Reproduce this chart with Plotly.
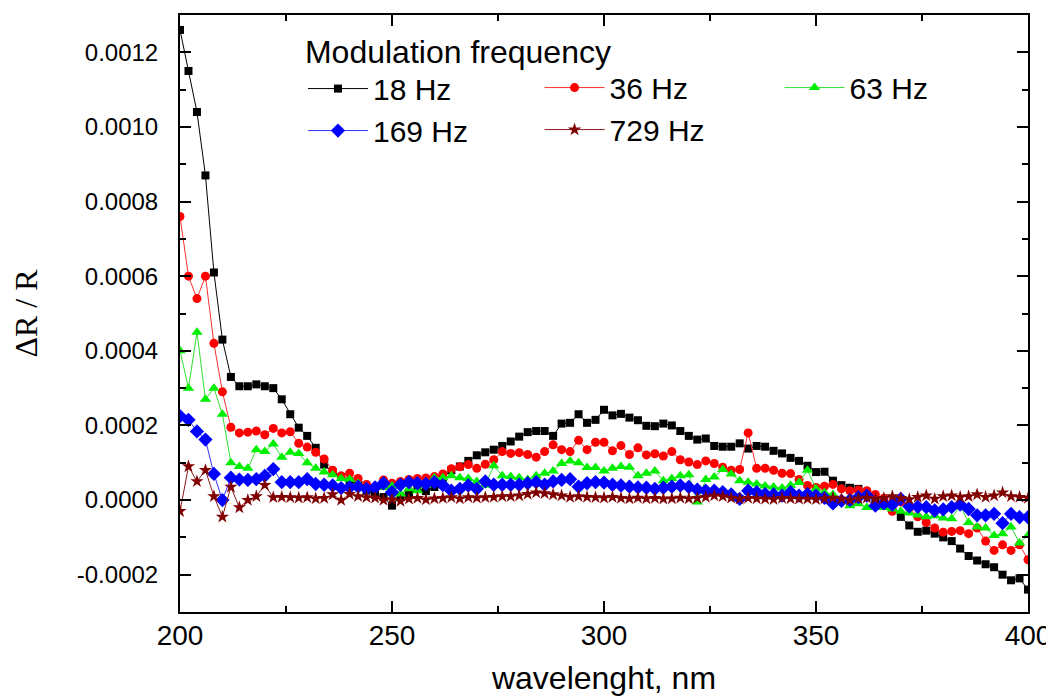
import plotly.graph_objects as go

# ---------------- data (ΔR/R values in units of 1e-4) ----------------
wavelength_nm = list(range(200, 401, 2))

dr_18hz_e4 = [
    12.6, 11.5, 10.4, 8.7, 6.1, 4.3, 3.3, 3.05, 3.05, 3.1,
    3.05, 3.0, 2.7, 2.3, 1.94, 1.72, 1.4, 0.95, 0.75, 0.62,
    0.5, 0.4, 0.25, 0.14, 0.08, -0.15, 0.1, 0.16, 0.3, 0.24,
    0.35, 0.6, 0.8, 0.9, 1.05, 1.2, 1.28, 1.35, 1.45, 1.57,
    1.7, 1.82, 1.85, 1.85, 1.72, 2.05, 2.07, 2.3, 2.07, 2.15,
    2.42, 2.27, 2.31, 2.21, 2.14, 1.99, 1.98, 2.05, 2.0, 1.85,
    1.72, 1.62, 1.65, 1.45, 1.43, 1.43, 1.52, 1.38, 1.45, 1.43,
    1.32, 1.25, 1.13, 1.05, 0.92, 0.75, 0.76, 0.52, 0.40, 0.33,
    0.3, 0.2, 0.0, -0.1, -0.25, -0.45, -0.68, -0.85, -0.82, -0.9,
    -1.0, -1.1, -1.3, -1.5, -1.62, -1.72, -1.8, -2.0, -2.15, -2.1,
    -2.4,
]

dr_36hz_e4 = [
    7.6, 6.0, 5.4, 6.0, 4.2, 2.9, 1.95, 1.8, 1.82, 1.85,
    1.75, 1.92, 1.8, 1.83, 1.52, 1.42, 1.28, 1.1, 0.8, 0.65,
    0.72, 0.58, 0.42, 0.34, 0.54, 0.45, 0.5, 0.55, 0.58, 0.59,
    0.63, 0.7, 0.84, 0.89, 0.95, 0.85, 0.96, 1.08, 1.3, 1.25,
    1.27, 1.22, 1.15, 1.3, 1.48, 1.35, 1.3, 1.6, 1.35, 1.55,
    1.55, 1.32, 1.46, 1.22, 1.40, 1.21, 1.24, 1.18, 1.30, 1.08,
    1.02, 0.95, 1.05, 0.98, 0.88, 0.80, 0.82, 1.8, 0.85, 0.85,
    0.80, 0.72, 0.71, 0.55, 0.39, 0.34, 0.37, 0.42, 0.30, 0.25,
    0.27, 0.25, 0.15, 0.05, -0.3, -0.05, -0.2, -0.45, -0.6, -0.75,
    -0.86, -0.84, -0.82, -0.9, -0.75, -1.1, -1.35, -1.2, -1.35, -1.2,
    -1.6,
]

dr_63hz_e4 = [
    4.0, 3.0, 4.5, 2.7, 3.0, 2.3, 1.0, 0.9, 0.85, 1.35,
    1.3, 1.5, 1.15, 1.28, 1.25, 1.0, 0.85, 0.75, 0.68, 0.58,
    0.56, 0.45, 0.35, 0.34, 0.34, 0.38, 0.16, 0.3, 0.25, 0.4,
    0.6, 0.6, 0.65, 0.6, 0.58, 0.5, 0.4, 0.92, 0.65, 0.63,
    0.6, 0.55, 0.65, 0.72, 0.78, 0.98, 1.05, 1.0, 0.87, 0.87,
    0.78, 0.85, 0.9, 0.88, 0.65, 0.72, 0.78, 0.52, 0.58, 0.65,
    0.68, -0.05, 0.55, 0.62, 0.82, 0.7, 0.52, 0.48, 0.43, 0.38,
    0.35, 0.32, 0.4, 0.47, 0.8, 0.3, 0.2, 0.15, 0.0, -0.15,
    -0.1, -0.2, -0.1, -0.2, -0.24, -0.3, -0.35, -0.4, -0.45, -0.42,
    -0.48, -0.5, -0.15, -0.6, -0.72, -0.75, -0.95, -0.9, -0.72, -1.15,
    -0.95,
]

dr_169hz_e4 = [
    2.25, 2.15, 1.84, 1.62, 0.7, 0.0, 0.6, 0.55, 0.54, 0.56,
    0.65, 0.83, 0.48, 0.48, 0.48, 0.56, 0.43, 0.41, 0.39, 0.32,
    0.34, 0.36, 0.3, 0.34, 0.45, 0.21, 0.41, 0.48, 0.45, 0.43,
    0.48, 0.4, 0.25, 0.3, 0.39, 0.3, 0.5, 0.41, 0.41, 0.41,
    0.41, 0.45, 0.48, 0.41, 0.5, 0.54, 0.56, 0.36, 0.45, 0.48,
    0.47, 0.41, 0.39, 0.36, 0.34, 0.33, 0.30, 0.33, 0.36, 0.39,
    0.35, 0.28, 0.25, 0.25, 0.21, 0.15, 0.03, 0.25, 0.21, 0.16,
    0.15, 0.12, 0.21, 0.12, 0.16, 0.12, 0.06, -0.09, -0.02, 0.0,
    0.08, 0.12, -0.15, -0.09, -0.12, 0.03, -0.17, -0.18, -0.19, -0.28,
    -0.25, -0.19, -0.12, -0.24, -0.41, -0.41, -0.37, -0.62, -0.37, -0.46,
    -0.46,
]

dr_729hz_e4 = [
    -0.3, 0.9, 0.5, 0.8, 0.1, -0.45, 0.35, -0.2, 0.0, 0.1,
    0.4, 0.07, 0.08, 0.07, 0.06, 0.07, 0.04, 0.05, 0.15, 0.0,
    0.16, 0.1, 0.07, 0.06, 0.0, 0.02, -0.03, 0.03, 0.05, 0.01,
    0.04, 0.05, 0.07, 0.04, 0.07, 0.06, 0.07, 0.08, 0.1, 0.1,
    0.12, 0.16, 0.2, 0.18, 0.15, 0.12, 0.08, 0.1, 0.08, 0.07,
    0.06, 0.08, 0.05, 0.04, 0.06, 0.04, 0.05, 0.03, 0.04, 0.06,
    0.04, 0.05, 0.08, 0.12, 0.1, 0.06, 0.03, 0.05, 0.04, 0.03,
    0.02, 0.05, 0.04, 0.03, 0.03, 0.02, 0.04, 0.06, 0.03, 0.0,
    0.04, 0.06, 0.03, 0.05, 0.1, 0.05, 0.02, 0.08, 0.12, 0.03,
    0.1, 0.12, 0.08, 0.1, 0.15, 0.08, 0.12, 0.2, 0.1, 0.08,
    0.05,
]

series_names = ["18 Hz", "36 Hz", "63 Hz", "169 Hz", "729 Hz"]
series_values = [dr_18hz_e4, dr_36hz_e4, dr_63hz_e4, dr_169hz_e4, dr_729hz_e4]

x_tick_vals = [200, 250, 300, 350, 400]
x_minor_vals = [225, 275, 325, 375]
y_tick_vals = [-0.0002, 0.0, 0.0002, 0.0004, 0.0006, 0.0008, 0.0010, 0.0012]
y_tick_text = ["-0.0002", "0.0000", "0.0002", "0.0004", "0.0006", "0.0008", "0.0010", "0.0012"]
y_minor_vals = [-0.0003, -0.0001, 0.0001, 0.0003, 0.0005, 0.0007, 0.0009, 0.0011, 0.0013]

# ---------------- styles ----------------
line_colors = ["#000000", "#FF3030", "#30E030", "#3030FF", "#8B1A1A"]
marker_colors = ["#000000", "#FF0000", "#00EE00", "#0000FF", "#800000"]
marker_symbols = ["square", "circle", "triangle-up", "diamond", "star"]
marker_sizes = [8, 9, 10, 11, 10]
# legend columns: col1 = 18 Hz / 169 Hz (with title), col2 = 36 Hz / 729 Hz, col3 = 63 Hz
legend_ids = ["legend", "legend2", "legend3", "legend", "legend2"]

fig = go.Figure()
for i, name in enumerate(series_names):
    fig.add_trace(go.Scatter(
        x=wavelength_nm,
        y=[v * 1e-4 for v in series_values[i]],
        mode="lines+markers",
        name=name,
        legend=legend_ids[i],
        line=dict(color=line_colors[i], width=1),
        marker=dict(symbol=marker_symbols[i], size=marker_sizes[i],
                    color=marker_colors[i], line=dict(width=0)),
    ))

axis_common = dict(
    showline=True, linewidth=2, linecolor="black", mirror="ticks",
    ticks="inside", ticklen=11, tickwidth=2, tickcolor="black",
    showgrid=False, zeroline=False,
)

legend_common = dict(
    orientation="v", xanchor="left", yanchor="top",
    bgcolor="rgba(0,0,0,0)", borderwidth=0,
    font=dict(size=30), itemwidth=60, tracegroupgap=0,
)

# the page body adds an 8 px offset, so the figure is 8 px smaller than the window
fig.update_layout(
    width=1046, height=690,
    margin=dict(l=172, r=26, t=7, b=86, autoexpand=False),
    plot_bgcolor="white", paper_bgcolor="white",
    font=dict(family="Liberation Sans, Arial, sans-serif", color="black"),
    xaxis=dict(
        range=[200, 400], tickmode="array", tickvals=x_tick_vals,
        tickfont=dict(size=28), ticklabelstandoff=-3,
        minor=dict(tickmode="array", tickvals=x_minor_vals, ticks="inside",
                   ticklen=6, tickwidth=2, tickcolor="black", showgrid=False),
        title=dict(text="wavelenght, nm", font=dict(size=32), standoff=17),
        **axis_common,
    ),
    yaxis=dict(
        range=[-0.0003, 0.0013], tickmode="array", tickvals=y_tick_vals,
        ticktext=y_tick_text, tickfont=dict(size=24), ticklabelstandoff=15,
        minor=dict(tickmode="array", tickvals=y_minor_vals, ticks="inside",
                   ticklen=6, tickwidth=2, tickcolor="black", showgrid=False),
        title=dict(text="ΔR / R", font=dict(size=32, family="Liberation Serif, Times New Roman, serif"),
                   standoff=34),
        **axis_common,
    ),
    legend=dict(
        x=0.145, y=0.99,
        title=dict(text="Modulation frequency", side="top", font=dict(size=32)),
        **legend_common,
    ),
    legend2=dict(x=0.424, y=0.922, **legend_common),
    legend3=dict(x=0.707, y=0.922, **legend_common),
    showlegend=True,
)

fig.write_html("out.html")
